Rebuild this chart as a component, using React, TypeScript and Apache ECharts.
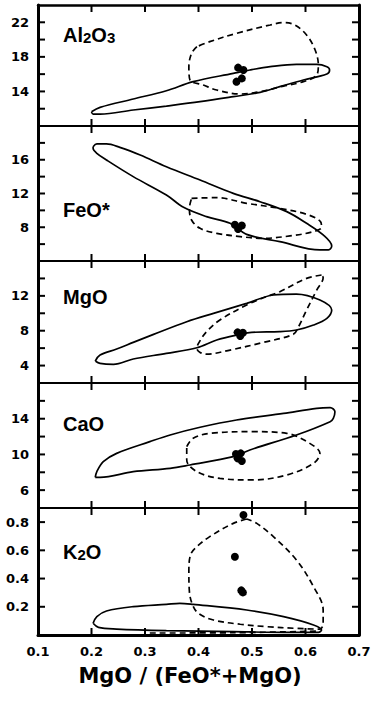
import React, { useEffect, useRef } from 'react';
import * as echarts from 'echarts';

type P = [number, number];

// ---- axis tick labels ----
const xTickLabels = ['0.1', '0.2', '0.3', '0.4', '0.5', '0.6', '0.7'];
const al2o3TickLabels = ['14', '18', '22'];
const feoTickLabels = ['8', '12', '16'];
const mgoTickLabels = ['4', '8', '12'];
const caoTickLabels = ['6', '10', '14'];
const k2oTickLabels = ['0.2', '0.4', '0.6', '0.8'];

// ---- Al2O3 panel ----
const al2o3Solid: P[] = [
  [0.2, 11.65], [0.216, 12.16], [0.278, 13.12], [0.34, 14.08], [0.39, 15.13], [0.465, 16.09],
  [0.496, 16.48], [0.534, 16.86], [0.583, 17.13], [0.621, 17.13], [0.64, 16.86], [0.645, 16.48],
  [0.64, 16.01], [0.596, 15.32], [0.552, 14.55], [0.515, 13.89], [0.465, 13.39], [0.403, 12.81],
  [0.34, 12.31], [0.278, 11.85], [0.216, 11.38], [0.203, 11.38], [0.2, 11.65],
];
const al2o3Dashed: P[] = [
  [0.397, 19.18], [0.387, 18.41], [0.382, 16.86], [0.384, 15.32], [0.409, 14.74], [0.434, 14.16],
  [0.478, 13.7], [0.515, 13.97], [0.559, 14.62], [0.596, 15.13], [0.621, 15.9], [0.624, 17.06],
  [0.618, 18.79], [0.602, 20.53], [0.58, 21.69], [0.559, 21.96], [0.534, 21.69], [0.471, 20.72],
  [0.421, 19.76], [0.397, 19.18],
];
const al2o3Dots: P[] = [[0.474, 16.75], [0.484, 16.48], [0.471, 15.13], [0.481, 15.51]];

// ---- FeO* panel ----
const feoSolid: P[] = [
  [0.203, 17.55], [0.21, 17.87], [0.228, 17.87], [0.253, 17.47], [0.291, 16.56], [0.34, 15.18],
  [0.403, 13.6], [0.465, 12.02], [0.515, 11.03], [0.565, 9.85], [0.602, 8.47], [0.633, 7.09],
  [0.649, 5.78], [0.643, 5.31], [0.627, 5.31], [0.552, 6.3], [0.49, 7.16], [0.459, 8.47],
  [0.415, 9.26], [0.372, 10.36], [0.34, 11.82], [0.278, 14.0], [0.228, 15.97], [0.21, 16.76],
  [0.203, 17.35], [0.203, 17.55],
];
const feoDashed: P[] = [
  [0.387, 11.43], [0.434, 11.51], [0.49, 10.84], [0.552, 10.24], [0.602, 9.53], [0.628, 8.67],
  [0.63, 7.99], [0.615, 7.48], [0.571, 6.97], [0.521, 6.69], [0.478, 6.89], [0.434, 7.28],
  [0.403, 7.87], [0.387, 8.86], [0.383, 10.24], [0.387, 11.43],
];
const feoDots: P[] = [[0.468, 8.3], [0.481, 8.2], [0.474, 7.8]];

// ---- MgO panel ----
const mgoSolid: P[] = [
  [0.207, 4.52], [0.216, 5.21], [0.247, 5.9], [0.278, 6.66], [0.316, 7.58], [0.378, 9.03],
  [0.428, 9.99], [0.49, 11.14], [0.54, 12.1], [0.583, 12.21], [0.627, 11.52], [0.649, 10.37],
  [0.64, 9.42], [0.615, 8.65], [0.583, 8.08], [0.552, 7.89], [0.499, 7.81], [0.478, 7.58],
  [0.434, 6.93], [0.397, 6.05], [0.34, 5.4], [0.278, 4.75], [0.241, 4.14], [0.216, 4.25],
  [0.207, 4.52],
];
const mgoDashed: P[] = [
  [0.63, 14.39], [0.602, 14.01], [0.552, 12.48], [0.527, 11.91], [0.49, 10.95], [0.44, 9.23],
  [0.415, 7.89], [0.4, 6.55], [0.397, 5.97], [0.403, 5.51], [0.415, 5.32], [0.459, 5.78],
  [0.521, 6.66], [0.577, 7.58], [0.587, 8.46], [0.602, 10.37], [0.621, 12.67], [0.633, 14.09],
  [0.63, 14.39],
];
const mgoDots: P[] = [[0.473, 7.81], [0.483, 7.77], [0.478, 7.39]];

// ---- CaO panel ----
const caoSolid: P[] = [
  [0.207, 7.44], [0.21, 8.07], [0.222, 9.19], [0.247, 10.12], [0.309, 11.43], [0.347, 12.18],
  [0.403, 13.04], [0.471, 13.86], [0.559, 14.6], [0.621, 15.16], [0.646, 15.24], [0.655, 14.79],
  [0.652, 14.04], [0.646, 13.67], [0.583, 12.18], [0.496, 10.5], [0.465, 9.75], [0.384, 8.82],
  [0.347, 8.44], [0.278, 8.07], [0.216, 7.44], [0.207, 7.44],
];
const caoDashed: P[] = [
  [0.378, 10.87], [0.39, 11.8], [0.421, 12.36], [0.502, 12.55], [0.565, 12.36], [0.608, 11.24],
  [0.627, 10.12], [0.615, 9.0], [0.565, 7.7], [0.502, 7.14], [0.44, 7.32], [0.397, 8.07],
  [0.378, 9.38], [0.378, 10.87],
];
const caoDots: P[] = [[0.47, 10.05], [0.479, 10.12], [0.473, 9.56], [0.481, 9.27]];

// ---- K2O panel ----
const k2oSolid: P[] = [
  [0.203, 0.083], [0.21, 0.13], [0.228, 0.17], [0.278, 0.201], [0.34, 0.217], [0.365, 0.224],
  [0.39, 0.217], [0.49, 0.177], [0.559, 0.13], [0.615, 0.071], [0.63, 0.035], [0.624, 0.019],
  [0.559, 0.019], [0.465, 0.024], [0.34, 0.031], [0.247, 0.042], [0.213, 0.054], [0.203, 0.083],
];
const k2oDashed: P[] = [
  [0.49, 0.822], [0.465, 0.791], [0.421, 0.697], [0.397, 0.626], [0.385, 0.567], [0.382, 0.449],
  [0.383, 0.307], [0.389, 0.213], [0.4, 0.153], [0.428, 0.106], [0.478, 0.076], [0.527, 0.059],
  [0.583, 0.047], [0.627, 0.042], [0.633, 0.083], [0.633, 0.177], [0.615, 0.342], [0.583, 0.532],
  [0.54, 0.697], [0.509, 0.791], [0.49, 0.822],
];
const k2oDashedBase: P[] = [[0.309, 0.014], [0.465, 0.016], [0.627, 0.028]];
const k2oDots: P[] = [[0.484, 0.85], [0.468, 0.555], [0.483, 0.302], [0.48, 0.316]];

const FONT_TICK = 'DejaVu Sans';
const FONT_LABEL = 'Liberation Sans';
const X_MIN = 0.1;
const X_MAX = 0.7;
const X_INT = 0.1;
const TL = 7; // tick length in px
const TW = 2; // tick width in px

interface Panel {
  label: string;
  top: number;
  height: number;
  ymin: number;
  ymax: number;
  yint: number;
  ticks: string[];
  solid: P[];
  dashed: P[];
  extraDashed?: P[];
  dots: P[];
  labelY: number;
}

const panels: Panel[] = [
  { label: '{m|Al}{s|2}{m|O}{s|3}', top: 5, height: 121, ymin: 10, ymax: 24, yint: 2, ticks: al2o3TickLabels, solid: al2o3Solid, dashed: al2o3Dashed, dots: al2o3Dots, labelY: 34 },
  { label: '{m|FeO*}', top: 126, height: 135, ymin: 4, ymax: 20, yint: 2, ticks: feoTickLabels, solid: feoSolid, dashed: feoDashed, dots: feoDots, labelY: 209 },
  { label: '{m|MgO}', top: 261, height: 122, ymin: 2, ymax: 16, yint: 2, ticks: mgoTickLabels, solid: mgoSolid, dashed: mgoDashed, dots: mgoDots, labelY: 296 },
  { label: '{m|CaO}', top: 383, height: 125, ymin: 4, ymax: 18, yint: 2, ticks: caoTickLabels, solid: caoSolid, dashed: caoDashed, dots: caoDots, labelY: 423 },
  { label: '{m|K}{s|2}{m|O}', top: 508, height: 127, ymin: 0, ymax: 0.9, yint: 0.2, ticks: k2oTickLabels, solid: k2oSolid, dashed: k2oDashed, extraDashed: k2oDashedBase, dots: k2oDots, labelY: 551 },
];

function innerTicks(min: number, max: number, step: number): number[] {
  const out: number[] = [];
  for (let k = 1; min + k * step < max - 1e-9; k++) out.push(+(min + k * step).toFixed(6));
  return out;
}

function tickSeries(xi: number, yi: number, data: number[][], size: number[], offset: number[]) {
  return {
    type: 'scatter', xAxisIndex: xi, yAxisIndex: yi, data, symbol: 'rect', symbolSize: size,
    symbolOffset: offset, silent: true, clip: false, z: 6, itemStyle: { color: '#000', opacity: 1 },
  };
}

function buildOption() {
  const grid: any[] = [];
  const xAxis: any[] = [];
  const yAxis: any[] = [];
  const series: any[] = [];
  const graphic: any[] = [];
  const n = panels.length;

  panels.forEach((p, i) => {
    grid.push({ left: 38, width: 321, top: p.top, height: p.height, containLabel: false });
    const isLast = i === n - 1;
    xAxis.push({
      type: 'value', gridIndex: i, min: X_MIN, max: X_MAX, interval: X_INT, position: 'bottom',
      axisLine: { show: true, onZero: false, lineStyle: { color: '#000', width: isLast ? 3 : 2 } },
      axisTick: { show: false },
      splitLine: { show: false },
      axisLabel: {
        show: isLast, margin: 10, color: '#000', fontFamily: FONT_TICK, fontWeight: 'bold', fontSize: 13,
        formatter: (v: number) => xTickLabels[Math.round((v - X_MIN) / X_INT)] ?? '',
      },
    });
    xAxis.push({
      type: 'value', gridIndex: i, min: X_MIN, max: X_MAX, interval: X_INT, position: 'top',
      axisLine: { show: true, onZero: false, lineStyle: { color: '#000', width: i === 0 ? 2.5 : 2 } },
      axisTick: { show: false },
      splitLine: { show: false },
      axisLabel: { show: false },
    });
    const labels = p.ticks;
    yAxis.push({
      type: 'value', gridIndex: i, min: p.ymin, max: p.ymax, interval: p.yint, position: 'left',
      axisLine: { show: true, onZero: false, lineStyle: { color: '#000', width: 3 } },
      axisTick: { show: false },
      splitLine: { show: false },
      axisLabel: {
        show: true, margin: 9, color: '#000', fontFamily: FONT_TICK, fontWeight: 'bold', fontSize: 13,
        showMinLabel: true, showMaxLabel: true,
        formatter: (v: number) => {
          const hit = labels.find((l) => Math.abs(parseFloat(l) - v) < 1e-6);
          return hit ?? '';
        },
      },
    });
    yAxis.push({
      type: 'value', gridIndex: i, min: p.ymin, max: p.ymax, interval: p.yint, position: 'right',
      axisLine: { show: true, onZero: false, lineStyle: { color: '#000', width: 3 } },
      axisTick: { show: false },
      splitLine: { show: false },
      axisLabel: { show: false },
    });
    const xi = i * 2;
    const yi = i * 2;

    // inward tick marks on all four sides, placed through the axes' scales
    const xv = innerTicks(X_MIN, X_MAX, X_INT);
    const yv = innerTicks(p.ymin, p.ymax, p.yint);
    series.push(tickSeries(xi, yi, xv.map((v) => [v, p.ymin]), [TW, TL], [0, -TL / 2]));
    series.push(tickSeries(xi, yi, xv.map((v) => [v, p.ymax]), [TW, TL], [0, TL / 2]));
    series.push(tickSeries(xi, yi, yv.map((v) => [X_MIN, v]), [TL, TW], [TL / 2, 0]));
    series.push(tickSeries(xi, yi, yv.map((v) => [X_MAX, v]), [TL, TW], [-TL / 2, 0]));

    series.push({
      type: 'line', xAxisIndex: xi, yAxisIndex: yi, data: p.solid, symbol: 'none', smooth: 0.35,
      silent: true, lineStyle: { color: '#000', width: 1.7, type: 'solid' }, z: 3,
    });
    series.push({
      type: 'line', xAxisIndex: xi, yAxisIndex: yi, data: p.dashed, symbol: 'none', smooth: 0.35,
      silent: true, lineStyle: { color: '#000', width: 1.7, type: [6, 4] }, z: 3,
    });
    if (p.extraDashed) {
      series.push({
        type: 'line', xAxisIndex: xi, yAxisIndex: yi, data: p.extraDashed, symbol: 'none', smooth: 0.35,
        silent: true, lineStyle: { color: '#000', width: 1.7, type: [6, 4] }, z: 3,
      });
    }
    series.push({
      type: 'scatter', xAxisIndex: xi, yAxisIndex: yi, data: p.dots, symbol: 'circle', symbolSize: 8,
      silent: true, itemStyle: { color: '#000', opacity: 1 }, z: 4,
    });
    graphic.push({
      type: 'text', x: 63, y: p.labelY, silent: true,
      style: {
        text: p.label,
        textVerticalAlign: 'middle',
        textAlign: 'left',
        fill: '#000',
        rich: {
          m: { fontFamily: FONT_LABEL, fontWeight: 'bold', fontSize: 20, fill: '#000', verticalAlign: 'bottom', lineHeight: 22 },
          s: { fontFamily: FONT_LABEL, fontWeight: 'bold', fontSize: 15, fill: '#000', verticalAlign: 'bottom', lineHeight: 20 },
        },
      },
    });
  });

  graphic.push({
    type: 'text', x: 190, y: 676, silent: true,
    style: {
      text: 'MgO / (FeO*+MgO)',
      font: `bold 21px "${FONT_TICK}"`,
      textAlign: 'center',
      textVerticalAlign: 'middle',
      fill: '#000',
    },
  });

  return {
    animation: false,
    backgroundColor: '#fff',
    grid,
    xAxis,
    yAxis,
    series,
    graphic,
  };
}

export default function App() {
  const ref = useRef<HTMLDivElement>(null);
  useEffect(() => {
    if (!ref.current) return;
    const chart = echarts.init(ref.current, undefined, { renderer: 'svg' });
    chart.setOption(buildOption());
    return () => chart.dispose();
  }, []);
  return (
    <div
      ref={ref}
      style={{ position: 'absolute', left: 0, top: 0, width: 375, height: 702, background: '#fff' }}
    />
  );
}
